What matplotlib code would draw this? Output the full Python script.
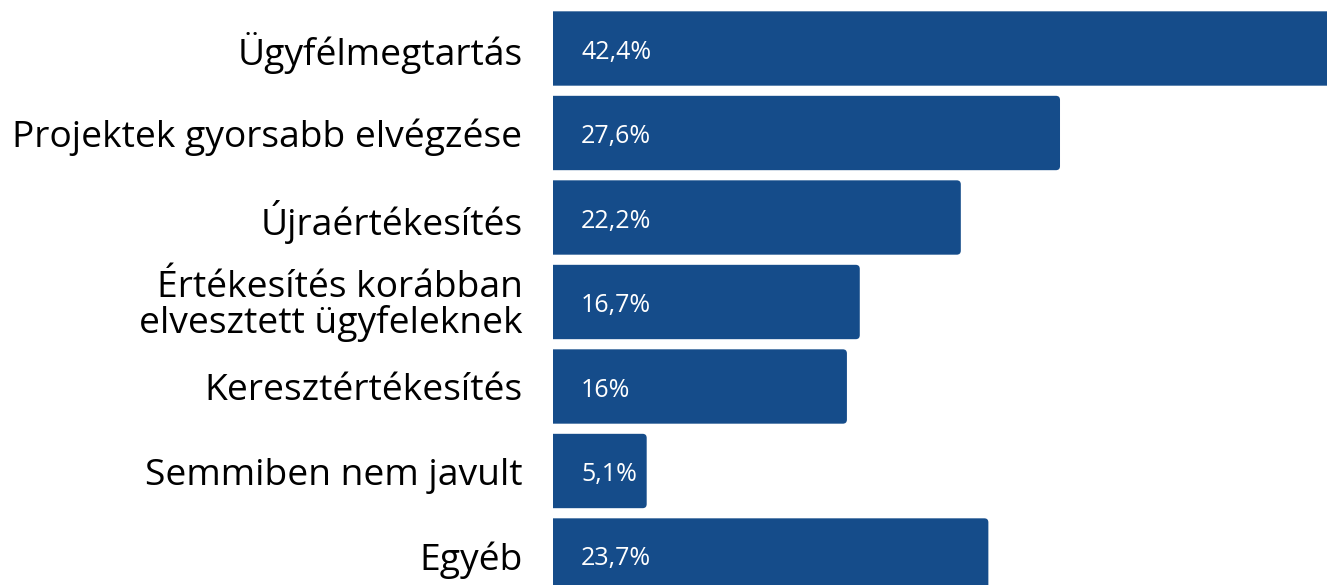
import numpy as np
import matplotlib.pyplot as plt
from matplotlib.patches import FancyBboxPatch

categories = ['Ügyfélmegtartás', 'Projektek gyorsabb elvégzése', 'Újraértékesítés',
              'Értékesítés korábban\nelvesztett ügyfeleknek', 'Keresztértékesítés',
              'Semmiben nem javult', 'Egyéb']
values = [42.4, 27.6, 22.2, 16.7, 16.0, 5.1, 23.7]
value_labels = ['42,4%', '27,6%', '22,2%', '16,7%', '16%', '5,1%', '23,7%']

plt.rcParams['font.family'] = ['Open Sans', 'DejaVu Sans']
bar_color = '#154c8a'

fig = plt.figure(figsize=(13.27, 5.85), dpi=100)
ax = fig.add_axes([553 / 1327, 0, 1 - 553 / 1327, 1])

pitch = 84.5
xmax = (1327 - 553) / 18.37
ax.set_xlim(0, xmax)
ax.set_ylim((585 - 48.5) / pitch, -48.5 / pitch)

h = 0.88
ypos = np.arange(len(values))
for y, v, lab in zip(ypos, values, value_labels):
    p = FancyBboxPatch((-1, y - h / 2), v + 1, h,
                       boxstyle='round,pad=0,rounding_size=0.22',
                       mutation_aspect=0.22, facecolor=bar_color,
                       edgecolor='none', clip_on=True)
    ax.add_patch(p)
    ax.text(28 / 18.37, y + 3.5 / pitch, lab, color='white', fontsize=18,
            va='center', ha='left')

ax.set_yticks(ypos)
ax.set_yticklabels(categories, fontsize=26.8, linespacing=0.95)
ax.tick_params(axis='y', length=0, pad=22)
ax.set_xticks([])
for s in ax.spines.values():
    s.set_visible(False)

fig.savefig('out.png', dpi=100)
